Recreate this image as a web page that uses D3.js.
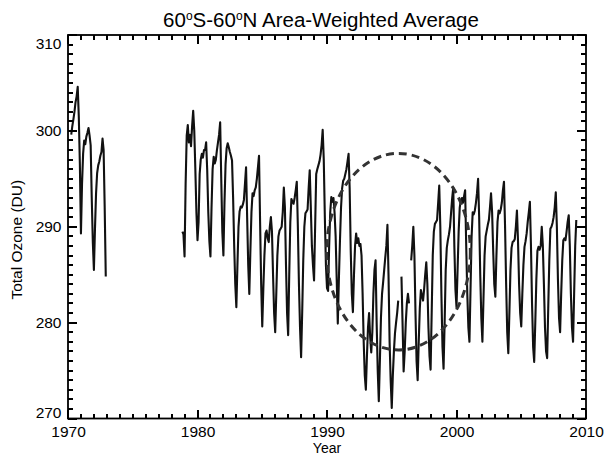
<!DOCTYPE html>
<html>
<head>
<meta charset="utf-8">
<script src="https://cdn.jsdelivr.net/npm/d3@7"></script>
<style>
  body { margin: 0; background: #fff; }
  svg { display: block; font-family: "Liberation Sans", Arial, Helvetica, sans-serif; }
</style>
</head>
<body>
<div id="chart"></div>
<script>
// monthly 60S-60N area-weighted total ozone (DU)
var buvStart = [1970, 3];   // Apr 1970
var buvOzone = [
  299.6, 300.5, 301.2, 302.0, 303.0, 303.6, 304.6, 301.5, 296.5,                 // 1970
  289.3, 294.5, 297.6, 299.0, 298.6, 299.4, 299.8, 300.3, 299.5, 298.5, 293.0, 288.4, // 1971
  285.5, 289.8, 293.5, 295.6, 296.4, 296.8, 297.4, 297.8, 299.2, 298.0, 292.0, 284.8  // 1972
];

var tomsStart = [1978, 10]; // Nov 1978
var tomsOzone = [
  289.5, 289.2,                                                                   // 1978
  286.9, 294.5, 299.5, 300.6, 298.8, 299.6, 298.4, 300.5, 302.1, 300.0, 296.0, 291.5, // 1979
  288.6, 290.5, 295.5, 297.0, 297.6, 297.2, 298.0, 298.0, 298.8, 295.9, 291.5, 288.5, // 1980
  286.9, 292.0, 296.0, 297.3, 296.6, 297.0, 298.0, 298.8, 299.6, 300.9, 295.0, 289.5, // 1981
  287.0, 292.5, 296.5, 298.2, 298.7, 298.3, 297.8, 297.4, 296.9, 293.0, 288.0, 284.0, // 1982
  281.6, 286.0, 290.0, 291.6, 292.1, 292.0, 292.3, 292.8, 294.5, 296.2, 291.0, 286.0, // 1983
  283.0, 287.5, 291.5, 293.5, 293.2, 293.8, 294.1, 295.0, 296.2, 297.4, 290.5, 284.0, // 1984
  279.6, 283.5, 287.0, 289.3, 289.6, 288.8, 288.4, 290.0, 291.0, 289.5, 285.0, 281.0, // 1985
  279.0, 283.0, 287.0, 289.0, 289.6, 289.8, 290.0, 291.5, 294.1, 292.0, 286.0, 281.0, // 1986
  278.7, 285.0, 290.5, 292.9, 292.6, 292.4, 293.0, 293.8, 294.7, 290.0, 284.0, 279.5, // 1987
  276.4, 281.0, 286.5, 290.0, 291.4, 291.6, 291.8, 294.0, 295.9, 292.0, 288.0, 286.0, // 1988
  284.4, 290.0, 295.5, 296.0, 296.4, 296.8, 297.5, 298.5, 300.1, 297.0, 291.0, 286.0, // 1989
  283.6, 283.3, 288.0, 291.5, 293.1, 292.6, 293.0, 291.5, 289.0, 284.5, 279.9, 284.5, // 1990
  288.5, 292.0, 294.0, 294.8, 295.0, 295.5, 296.0, 296.8, 297.6, 294.0, 287.5, 283.0, // 1991
  281.1, 285.0, 288.0, 289.3, 288.3, 288.8, 288.0, 288.2, 287.0, 283.0, 278.0, 274.5, // 1992
  273.0, 276.5, 279.5, 281.0, 278.5, 276.9, 279.0, 283.0, 285.5, 286.5, 280.0, 275.0, // 1993
  271.8, 276.0, 280.5, 283.0, 284.2, 285.5, 286.8, 288.0, 290.2, 285.0, 278.0, 274.0, // 1994
  271.1, 274.5, 277.0, 278.9, 280.0, 281.0, 282.3, null,  null,  284.8, 280.0, 274.9, // 1995
  277.0, 280.0, 282.0, 283.0, 282.0, null,  286.5, 288.0, 290.0, 287.0, 281.0, 276.0, // 1996
  274.0, 278.0, 281.5, 283.4, 282.8, 282.3, 283.5, 285.0, 286.3, 284.0, 279.5, 276.5, // 1997
  275.1, 281.0, 287.0, 289.5, 290.3, 290.5, 290.7, 292.5, 294.3, 290.0, 283.0, 277.5, // 1998
  275.2, 280.0, 285.5, 287.8, 288.6, 289.2, 290.0, 291.5, 293.0, 294.1, 288.0, 283.5, // 1999
  281.6, 285.5, 289.5, 292.0, 292.8, 293.0, 292.5, 293.2, 293.8, 288.0, 283.0, 279.5, // 2000
  278.0, 283.5, 289.0, 291.5, 291.3, 291.7, 292.5, 293.5, 295.0, 291.0, 285.0, 280.5, // 2001
  278.0, 282.5, 287.0, 289.0, 289.6, 290.2, 290.7, 292.0, 293.5, 291.5, 287.5, 284.0, // 2002
  282.7, 287.0, 290.5, 291.7, 291.4, 291.8, 292.5, 293.8, 294.7, 290.0, 284.0, 279.0, // 2003
  276.8, 281.0, 285.5, 287.8, 288.4, 288.5, 288.7, 290.0, 291.7, 288.5, 284.0, 281.0, // 2004
  279.6, 283.0, 286.0, 287.9, 288.5, 289.3, 290.5, 291.5, 292.6, 288.0, 282.0, 277.5, // 2005
  275.9, 280.0, 284.5, 287.5, 287.9, 287.6, 288.0, 290.0, 288.0, 284.0, 279.5, 277.0, // 2006
  276.3, 281.5, 286.5, 289.8, 290.0, 290.4, 291.0, 292.0, 293.6, 290.0, 284.5, 280.5, // 2007
  279.0, 283.0, 286.5, 288.6, 288.8, 288.6, 289.5, 290.5, 291.2, 288.0, 283.0, 279.5, // 2008
  278.0, 283.0, 288.0, 290.7                                                        // 2009
];

var xTicks = [1970, 1980, 1990, 2000, 2010];
var yTicks = [270, 280, 290, 300, 310];

// dashed ellipse annotation, in data units: centre year, centre DU, half-width (yr), half-height (DU)
var ring = { year: 1995.52, du: 287.4, rYear: 5.55, rDu: 10.25 };

var W = 605, H = 456;
var margin = { left: 68, right: 19, top: 35, bottom: 37.5 };

var x = d3.scaleLinear().domain([1970, 2010]).range([margin.left, W - margin.right]);
var y = d3.scaleLinear().domain([270, 310]).range([H - margin.bottom, margin.top]);
var bottomY = H - margin.bottom, rightX = W - margin.right;

function toPoints(start, vals) {
  return vals.map(function (v, i) {
    var m = start[1] + i;
    return { t: start[0] + m / 12, v: v };
  });
}

var svg = d3.select("#chart").append("svg")
  .attr("width", W).attr("height", H);

// ── Data lines ──────────────────────────────────────────────────────────
var line = d3.line()
  .defined(function (d) { return d.v != null; })
  .x(function (d) { return x(d.t); })
  .y(function (d) { return y(d.v); });

[toPoints(buvStart, buvOzone), toPoints(tomsStart, tomsOzone)].forEach(function (pts) {
  svg.append("path")
    .datum(pts)
    .attr("d", line)
    .attr("fill", "none")
    .attr("stroke", "#111")
    .attr("stroke-width", 2.1)
    .attr("stroke-linejoin", "round");
});

// ── Dashed ellipse ──────────────────────────────────────────────────────
svg.append("ellipse")
  .attr("cx", x(ring.year))
  .attr("cy", y(ring.du))
  .attr("rx", x(ring.year + ring.rYear) - x(ring.year))
  .attr("ry", y(ring.du - ring.rDu) - y(ring.du))
  .attr("fill", "none")
  .attr("stroke", "#333")
  .attr("stroke-width", 3)
  .attr("stroke-dasharray", "8,5");

// ── Box with inward ticks on all four sides ────────────────────────────
var years = d3.range(1970, 2011);
var dus = d3.range(270, 311);
function tickLen(major) { return major ? 9 : 5; }

var ticks = svg.append("g")
  .attr("stroke", "#000").attr("stroke-width", 2)
  .attr("shape-rendering", "crispEdges");

ticks.selectAll("line.xb").data(years).join("line").attr("class", "xb")
  .attr("x1", function (d) { return x(d); }).attr("x2", function (d) { return x(d); })
  .attr("y1", bottomY).attr("y2", function (d) { return bottomY - tickLen(d % 10 === 0); });
ticks.selectAll("line.xt").data(years).join("line").attr("class", "xt")
  .attr("x1", function (d) { return x(d); }).attr("x2", function (d) { return x(d); })
  .attr("y1", margin.top).attr("y2", function (d) { return margin.top + tickLen(d % 10 === 0); });
ticks.selectAll("line.yl").data(dus).join("line").attr("class", "yl")
  .attr("y1", function (d) { return y(d); }).attr("y2", function (d) { return y(d); })
  .attr("x1", margin.left).attr("x2", function (d) { return margin.left + tickLen(d % 10 === 0); });
ticks.selectAll("line.yr").data(dus).join("line").attr("class", "yr")
  .attr("y1", function (d) { return y(d); }).attr("y2", function (d) { return y(d); })
  .attr("x1", rightX).attr("x2", function (d) { return rightX - tickLen(d % 10 === 0); });

svg.append("rect")
  .attr("x", margin.left).attr("y", margin.top)
  .attr("width", rightX - margin.left).attr("height", bottomY - margin.top)
  .attr("fill", "none").attr("stroke", "#000").attr("stroke-width", 1.8);

// tick labels through the axis generators, tick marks already drawn
var xb = svg.append("g").attr("transform", "translate(0," + bottomY + ")")
  .call(d3.axisBottom(x).tickValues(xTicks).tickSize(0).tickPadding(7).tickFormat(d3.format("d")));
var yl = svg.append("g").attr("transform", "translate(" + margin.left + ",0)")
  .call(d3.axisLeft(y).tickValues(yTicks).tickSize(0).tickPadding(6.5).tickFormat(d3.format("d")));

[xb, yl].forEach(function (g) {
  g.select(".domain").remove();
  g.selectAll("text").attr("fill", "#000").style("font-size", "15.5px")
    .style("font-family", "\"Liberation Sans\", Arial, sans-serif");
});
// end labels sit inside the box like the original
yl.selectAll("text").attr("dy", function (d) {
  return d === 310 ? "0.85em" : d === 270 ? "-0.05em" : "0.32em";
});

// ── Titles ──────────────────────────────────────────────────────────────
var title = svg.append("text")
  .attr("x", (margin.left + rightX) / 2 - 6).attr("y", 27)
  .attr("text-anchor", "middle")
  .attr("font-size", "20.5px").attr("fill", "#000");
title.append("tspan").text("60");
title.append("tspan").attr("dy", -7).attr("font-size", "12px").text("o");
title.append("tspan").attr("dy", 7).text("S-60");
title.append("tspan").attr("dy", -7).attr("font-size", "12px").text("o");
title.append("tspan").attr("dy", 7).text("N Area-Weighted Average");

svg.append("text")
  .attr("transform", "translate(22," + ((margin.top + bottomY) / 2 + 13) + ") rotate(-90)")
  .attr("text-anchor", "middle")
  .attr("font-size", "15.5px").attr("fill", "#000")
  .text("Total Ozone (DU)");

svg.append("text")
  .attr("x", (margin.left + rightX) / 2).attr("y", 453)
  .attr("text-anchor", "middle")
  .attr("font-size", "14px").attr("fill", "#000")
  .text("Year");
</script>
</body>
</html>
